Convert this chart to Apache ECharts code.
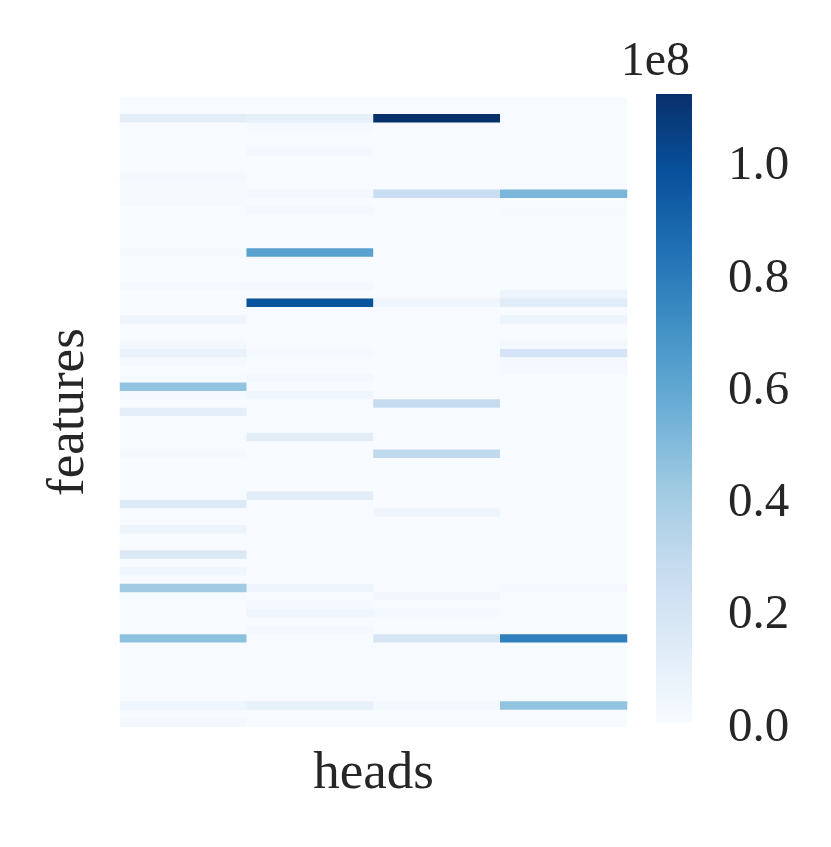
<!DOCTYPE html>
<html><head><meta charset="utf-8">
<script src="https://cdn.jsdelivr.net/npm/echarts@6/dist/echarts.min.js"></script>
<style>html,body{margin:0;padding:0;background:#fff}#c{width:831px;height:847px}</style>
</head><body><div id="c"></div>
<script>
// ---- data (values in units of 1e8) ----
const heads = ['head 0', 'head 1', 'head 2', 'head 3'];
const features = Array.from({length: 75}, (_, i) => 'f' + i);
const head0 = [
  0,0,0.12,0,0,0,0,0,0,0.03,
  0.01,0.01,0.015,0,0,0,0,0,0.015,0,
  0,0,0.02,0,0,0,0.05,0,0,0.03,
  0.08,0.02,0,0.01,0.45,0.02,0,0.11,0,0,
  0,0,0.015,0,0,0,0,0,0.14,0,
  0,0.07,0,0,0.16,0,0.04,0,0.41,0.01,
  0,0,0,0,0.47,0,0,0,0,0,
  0,0,0.05,0,0.03
];
const head1 = [
  0,0,0.10,0.02,0,0,0.03,0,0,0,
  0,0.03,0,0.025,0,0,0,0,0.62,0,
  0,0,0.03,0,0.97,0,0,0,0,0,
  0.02,0,0,0.025,0,0.04,0,0,0,0,
  0.12,0,0,0,0,0,0,0.12,0,0,
  0,0,0,0,0,0,0,0,0.05,0,
  0.02,0.04,0,0.025,0,0,0,0,0,0,
  0,0,0.09,0,0
];
const head2 = [
  0,0,1.12,0,0,0,0,0,0,0,
  0,0.25,0,0,0,0,0,0,0,0,
  0,0,0,0,0.05,0,0,0,0,0,
  0,0,0,0,0,0,0.28,0,0,0,
  0,0,0.30,0,0,0,0,0,0,0.05,
  0,0,0,0,0,0,0,0,0,0.035,
  0,0.02,0,0,0.19,0,0,0,0,0,
  0,0,0.03,0,0
];
const head3 = [
  0,0,0,0,0,0,0,0,0,0,
  0,0.52,0,0.01,0,0,0,0,0,0,
  0,0,0,0.06,0.13,0,0.06,0,0,0.03,
  0.20,0.02,0.02,0,0,0,0,0,0,0,
  0,0,0,0,0,0,0,0,0,0,
  0,0,0,0,0,0,0,0,0.02,0,
  0,0,0,0,0.78,0,0,0,0,0,
  0,0,0.45,0,0
];
const colorMin = 0;
const colorMax = 1.12;
const colorbarLabels = [0, 0.2, 0.4, 0.6, 0.8, 1.0];
const blues = ['#f7fbff','#deebf7','#c6dbef','#9ecae1','#6baed6','#4292c6','#2171b5','#08519c','#08306b'];

// ---- build ----
const columns = [head0, head1, head2, head3];
const cells = [];
columns.forEach((col, x) => col.forEach((v, y) => cells.push([x, y, v])));

const FONT = "'Liberation Serif', 'Times New Roman', serif";
const TXT = '#262626';

const chart = echarts.init(document.getElementById('c'), null, {renderer: 'canvas'});
chart.setOption({
  backgroundColor: '#ffffff',
  animation: false,
  grid: [
    {left: 120, top: 97.5, width: 507, height: 629.2},
    {left: 656, top: 94, width: 36, height: 628.7}
  ],
  xAxis: [
    {type: 'category', gridIndex: 0, data: heads,
     axisLine: {show: false}, axisTick: {show: false}, axisLabel: {show: false}, splitLine: {show: false},
     name: 'heads', nameLocation: 'middle', nameGap: 21,
     nameTextStyle: {fontFamily: FONT, fontSize: 53, color: TXT}},
    {type: 'category', gridIndex: 1, data: ['cb'], show: false}
  ],
  yAxis: [
    {type: 'category', gridIndex: 0, data: features, inverse: true,
     axisLine: {show: false}, axisTick: {show: false}, axisLabel: {show: false}, splitLine: {show: false},
     name: 'features', nameLocation: 'middle', nameGap: 24, nameRotate: 90,
     nameTextStyle: {fontFamily: FONT, fontSize: 53, color: TXT}},
    {type: 'value', gridIndex: 1, position: 'right', min: colorMin, max: colorMax, interval: 0.2,
     axisLine: {show: false}, axisTick: {show: false}, splitLine: {show: false},
     axisLabel: {showMaxLabel: false, margin: 36, fontFamily: FONT, fontSize: 49, color: TXT,
       verticalAlign: 'top', lineHeight: 10,
       formatter: v => colorbarLabels.some(t => Math.abs(t - v) < 1e-6) ? v.toFixed(1) : ''},
     name: '1e8', nameLocation: 'end', nameGap: 8,
     nameTextStyle: {fontFamily: FONT, fontSize: 48, color: TXT, align: 'right', padding: [0, 2, 0, 0]}}
  ],
  visualMap: {
    show: false, type: 'continuous', seriesIndex: 0, min: colorMin, max: colorMax,
    inRange: {color: blues}
  },
  series: [
    {type: 'heatmap', xAxisIndex: 0, yAxisIndex: 0, data: cells,
     itemStyle: {borderWidth: 0}, emphasis: {disabled: true}, progressive: 0},
    {type: 'bar', xAxisIndex: 1, yAxisIndex: 1, data: [colorMax], barWidth: '100%', silent: true,
     itemStyle: {color: new echarts.graphic.LinearGradient(0, 1, 0, 0,
       blues.map((c, i) => ({offset: i / (blues.length - 1), color: c})))}}
  ]
});
</script></body></html>
